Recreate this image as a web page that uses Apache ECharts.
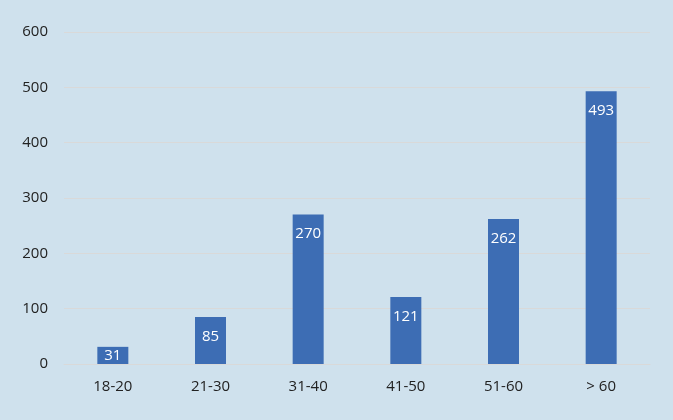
<!DOCTYPE html>
<html><head><meta charset="utf-8">
<script src="https://cdn.jsdelivr.net/npm/echarts@6/dist/echarts.min.js"></script>
<style>html,body{margin:0;padding:0;background:#cfe1ed;}#c{width:673px;height:420px;}</style>
</head><body><div id="c"></div>
<script>
const categories = ['18-20','21-30','31-40','41-50','51-60','> 60'];
const values = [31, 85, 270, 121, 262, 493];
const yTicks = {min:0, max:600, interval:100};
const FONT = 'Open Sans, Liberation Sans, sans-serif';
const chart = echarts.init(document.getElementById('c'));
chart.setOption({
  backgroundColor:'#cfe1ed',
  animation:false,
  grid:{left:64,right:23,top:32,bottom:56,containLabel:false},
  xAxis:{type:'category',data:categories,
    axisLine:{show:true,lineStyle:{color:'#d9d9d9',width:1}},
    axisTick:{show:false},
    axisLabel:{color:'#222222',fontSize:15,fontFamily:FONT,margin:15}},
  yAxis:{type:'value',min:yTicks.min,max:yTicks.max,interval:yTicks.interval,
    axisLine:{show:false},axisTick:{show:false},
    splitLine:{lineStyle:{color:'#d9d9d9',width:1}},
    axisLabel:{color:'#222222',fontSize:15,fontFamily:FONT,margin:16}},
  series:[{type:'bar',
    data:values.map(v => v < 50 ? {value:v,label:{position:'inside'}} : v),
    barWidth:31,
    itemStyle:{color:'#3d6db4'},
    label:{show:true,position:'insideTop',distance:12,color:'#ffffff',fontSize:15,fontFamily:FONT}}]
});
</script></body></html>
